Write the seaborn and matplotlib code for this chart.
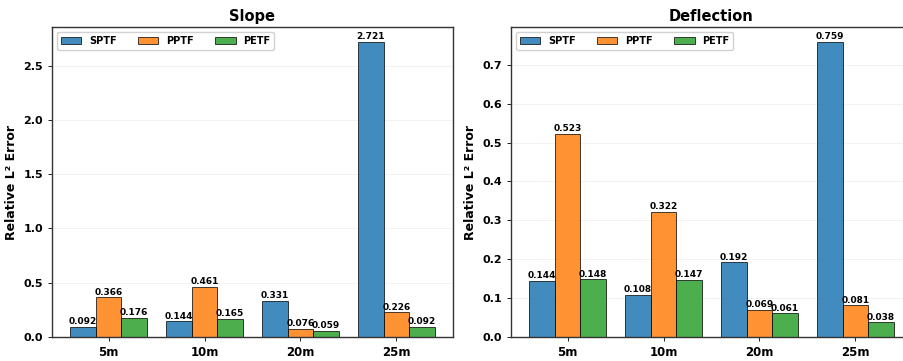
import matplotlib
matplotlib.use("Agg")
import matplotlib.pyplot as plt
import seaborn as sns
import pandas as pd

# Spacing categories and methods
distances = ["5m", "10m", "20m", "25m"]
methods = ["SPTF", "PPTF", "PETF"]

# Relative L2 error per method, one value per spacing
slope_sptf = [0.092, 0.144, 0.331, 2.721]
slope_pptf = [0.366, 0.461, 0.076, 0.226]
slope_petf = [0.176, 0.165, 0.059, 0.092]

defl_sptf = [0.144, 0.108, 0.192, 0.759]
defl_pptf = [0.523, 0.322, 0.069, 0.081]
defl_petf = [0.148, 0.147, 0.061, 0.038]

panel_titles = ["Slope", "Deflection"]


def to_frame(sptf, pptf, petf):
    rows = []
    for m, vals in zip(methods, [sptf, pptf, petf]):
        for d, v in zip(distances, vals):
            rows.append({"Distance": d, "Method": m, "Error": v})
    return pd.DataFrame(rows)


frames = [to_frame(slope_sptf, slope_pptf, slope_petf),
          to_frame(defl_sptf, defl_pptf, defl_petf)]

sns.set_style("ticks")
plt.rcParams["font.family"] = ["DejaVu Sans"]
plt.rcParams["font.weight"] = "bold"
for key in ["text.color", "axes.labelcolor", "xtick.color", "ytick.color"]:
    plt.rcParams[key] = "black"

W, H = 904, 361
fig = plt.figure(figsize=(W / 100, H / 100), dpi=100)
palette = ["#1f77b4", "#ff7f0e", "#2ca02c"]

lefts = [52, 511]
ax_w, top, bottom = 401, 27, 337
for i, (df, title) in enumerate(zip(frames, panel_titles)):
    ax = fig.add_axes([lefts[i] / W, (H - bottom) / H, ax_w / W, (bottom - top) / H])
    sns.barplot(data=df, x="Distance", y="Error", hue="Method", order=distances,
                hue_order=methods, palette=palette, alpha=0.85, edgecolor="black",
                linewidth=0.6, width=0.8, errorbar=None, ax=ax, saturation=1)
    for cont in ax.containers:
        ax.bar_label(cont, fmt="%.3f", fontsize=6.5, fontweight="bold", padding=0.5)
    ymax = df["Error"].max()
    ax.set_ylim(0, ymax * 1.05)
    ax.set_xlim(-0.59, 3.59)
    ax.set_title(title, fontsize=10.5, fontweight="bold", pad=4)
    ax.set_xlabel("")
    ax.set_ylabel("Relative L² Error", fontsize=9, fontweight="bold", labelpad=4)
    ax.grid(axis="y", alpha=0.3, linewidth=0.6)
    ax.set_axisbelow(True)
    ax.tick_params(axis="x", labelsize=8.5, length=3, width=0.6)
    ax.tick_params(axis="y", labelsize=8, length=3, width=0.6)
    for lab in ax.get_xticklabels() + ax.get_yticklabels():
        lab.set_fontweight("bold")
    for sp in ax.spines.values():
        sp.set_visible(True)
        sp.set_color("#333333")
        sp.set_linewidth(1.0)
    handles, labels = ax.get_legend_handles_labels()
    ax.legend(handles, labels, loc="upper left", ncol=3, frameon=True,
              prop={"weight": "bold", "size": 7}, handlelength=2.1,
              handleheight=0.75, handletextpad=0.8, columnspacing=2.2,
              borderaxespad=0.5, fancybox=True, framealpha=0.9)

fig.savefig("out.png", dpi=100)
